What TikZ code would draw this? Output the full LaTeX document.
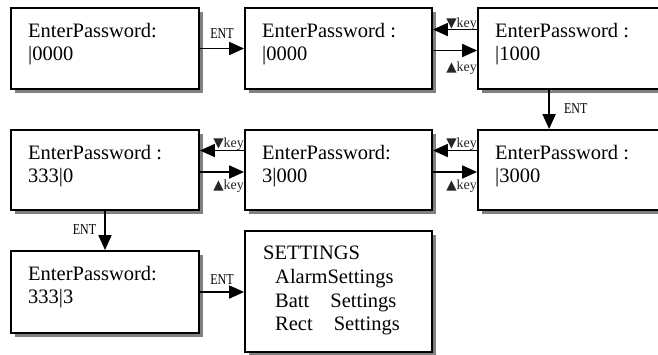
\documentclass[tikz,border=0pt]{standalone}
\usepackage{fontspec}
\setmainfont{Liberation Serif}
\newfontfamily\entfont[FakeStretch=0.8]{Liberation Serif}
\newfontfamily\symfont{DejaVu Sans}
\usetikzlibrary{arrows.meta,shadows,calc}
\definecolor{shadowgray}{HTML}{808080}
\tikzset{
  screen/.style={draw, line width=1.8pt, fill=white, inner sep=0pt,
    general shadow={fill=shadowgray, shadow xshift=4pt, shadow yshift=-4pt}},
  lcd/.style={anchor=base west, inner sep=0pt, font=\fontsize{20.5}{22.5}\selectfont},
  flow/.style={line width=1.8pt, -{Triangle[length=15pt,width=13pt]}},
  entlbl/.style={inner sep=0pt, font=\entfont\fontsize{15}{15}\selectfont},
  keylbl/.style={inner sep=0pt, anchor=base east, font=\fontsize{14}{14}\selectfont, text=black!85},
}
\newcommand{\tridown}{{\symfont\fontsize{13.5}{13.5}\selectfont ▼}}
\newcommand{\triup}{{\symfont\fontsize{13.5}{13.5}\selectfont ▲}}
\begin{document}
\begin{tikzpicture}[x=1pt,y=-1pt]
\useasboundingbox (0,0) rectangle (658,354);
\clip (0,0) rectangle (658,354);

% LCD screens
\node[screen, minimum width=188pt, minimum height=81pt] (b1) at (105,48.5) {};
\node[screen, minimum width=187pt, minimum height=81pt] (b2) at (338.5,48.5) {};
\node[screen, minimum width=242pt, minimum height=81pt] (b3) at (599,48.5) {};
\node[screen, minimum width=188pt, minimum height=80pt] (b4) at (105,170) {};
\node[screen, minimum width=187pt, minimum height=80pt] (b5) at (338.5,170) {};
\node[screen, minimum width=242pt, minimum height=80pt] (b6) at (599,170) {};
\node[screen, minimum width=188pt, minimum height=82pt] (b7) at (105,292) {};
\node[screen, minimum width=187pt, minimum height=121pt] (b8) at (338.5,291.5) {};

% screen contents
\node[lcd] (t1a) at (28,37.5) {EnterPassword:};
\node[lcd] (t1b) at (28,60) {|0000};
\node[lcd] (t2a) at (262,37.5) {EnterPassword :};
\node[lcd] (t2b) at (262,60) {|0000};
\node[lcd] (t3a) at (495,37.5) {EnterPassword :};
\node[lcd] (t3b) at (495,60) {|1000};
\node[lcd] (t4a) at (28,159.5) {EnterPassword :};
\node[lcd] (t4b) at (28,182) {333|0};
\node[lcd] (t5a) at (262,159.5) {EnterPassword:};
\node[lcd] (t5b) at (262,182) {3|000};
\node[lcd] (t6a) at (495,159.5) {EnterPassword :};
\node[lcd] (t6b) at (495,182) {|3000};
\node[lcd] (t7a) at (28,280.5) {EnterPassword:};
\node[lcd] (t7b) at (28,303) {333|3};
\node[lcd] (t8a) at (263,259) {SETTINGS};
\node[lcd] (t8b) at (275,283) {AlarmSettings};
\node[lcd] (t8c) at (275,307) {Batt\hspace{21pt}Settings};
\node[lcd] (t8d) at (275,330) {Rect\hspace{21pt}Settings};

% ENT transitions
\draw[flow] (b1) -- node[entlbl, anchor=base, yshift=10pt] (e1) {ENT} (b2);
\draw[flow] ($(b3.south west)+(72,0)$) --
  node[entlbl, anchor=base west, xshift=14pt, yshift=-3.5pt] (e2) {ENT}
  ($(b6.north west)+(72,0)$);
\draw[flow] (b4) -- node[entlbl, anchor=base east, xshift=-8pt, yshift=-3.5pt] (e3) {ENT} (b7);
\draw[flow] (b7.east) -- node[entlbl, anchor=base, yshift=8pt] (e4) {ENT} (b7.east -| b8.west);

% digit up/down keys, first row
\draw[flow] ($(b3.west)+(0,-19)$) -- ($(b2.east)+(0,-19)$);
\draw[flow] ($(b2.east)+(0,2)$) -- ($(b3.west)+(0,2)$);
\node[keylbl] (k1) at ($(b3.west)+(0,-21.5)$) {\tridown key};
\node[keylbl] (k2) at ($(b3.west)+(0,23)$) {\triup key};

% digit up/down keys, second row
\draw[flow] ($(b6.west)+(0,-19.5)$) -- ($(b5.east)+(0,-19.5)$);
\draw[flow] ($(b5.east)+(0,2)$) -- ($(b6.west)+(0,2)$);
\node[keylbl] (k3) at ($(b6.west)+(0,-23)$) {\tridown key};
\node[keylbl] (k4) at ($(b6.west)+(0,19)$) {\triup key};

\draw[flow] ($(b5.west)+(0,-19.5)$) -- ($(b4.east)+(0,-19.5)$);
\draw[flow] ($(b4.east)+(0,2)$) -- ($(b5.west)+(0,2)$);
\node[keylbl] (k5) at ($(b5.west)+(0,-23)$) {\tridown key};
\node[keylbl] (k6) at ($(b5.west)+(0,19)$) {\triup key};
\end{tikzpicture}
\end{document}
